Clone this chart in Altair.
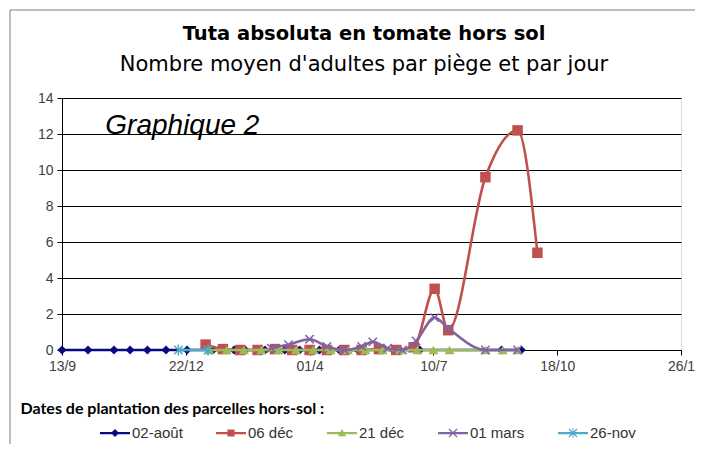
import altair as alt
import pandas as pd

# ---------------- data ----------------
title_text = "Tuta absoluta en tomate hors sol"
subtitle_text = "Nombre moyen d'adultes par piège et par jour"
annotation_text = "Graphique 2"
x_title = "Dates de plantation des parcelles hors-sol :"

series_names = ["02-août", "06 déc", "21 déc", "01 mars", "26-nov"]
series_colors = ["#0A0A80", "#C0504D", "#9BBB59", "#8064A2", "#4BACC6"]

aout_dates = ["2008-09-13", "2008-10-04", "2008-10-25", "2008-11-07", "2008-11-21",
              "2008-12-06", "2008-12-23", "2009-01-13", "2009-01-30", "2009-02-08",
              "2009-02-24", "2009-03-12", "2009-03-24", "2009-04-09", "2009-04-25",
              "2009-05-10", "2009-05-27", "2009-06-13", "2009-06-29", "2009-09-03",
              "2009-09-19"]
aout_vals = [0] * len(aout_dates)

dec06_dates = ["2009-01-07", "2009-01-21", "2009-02-04", "2009-02-18", "2009-03-04",
               "2009-03-18", "2009-04-01", "2009-04-15", "2009-04-29", "2009-05-13",
               "2009-05-27", "2009-06-10", "2009-06-24", "2009-07-11", "2009-07-22",
               "2009-08-21", "2009-09-16", "2009-10-02"]
dec06_vals = [0.3, 0.05, 0, 0, 0.05, 0, 0, 0, 0, 0, 0.05, 0, 0.15, 3.4, 1.1, 9.6, 12.2, 5.4]

dec21_dates = ["2009-01-10", "2009-01-24", "2009-02-07", "2009-02-21", "2009-03-07",
               "2009-03-21", "2009-04-04", "2009-04-18", "2009-05-02", "2009-05-16",
               "2009-05-30", "2009-06-13", "2009-06-27", "2009-07-10", "2009-07-23",
               "2009-08-21", "2009-09-04", "2009-09-16"]
dec21_vals = [0] * len(dec21_dates)

mars_dates = ["2009-03-01", "2009-03-15", "2009-04-01", "2009-04-15", "2009-04-29",
              "2009-05-13", "2009-05-22", "2009-06-03", "2009-06-15", "2009-06-26",
              "2009-07-11", "2009-07-22", "2009-08-21", "2009-09-16"]
mars_vals = [0.1, 0.3, 0.6, 0.2, 0.0, 0.2, 0.45, 0.1, 0.0, 0.5, 1.8, 1.2, 0.0, 0.0]

nov_dates = ["2008-12-16", "2009-01-09"]
nov_vals = [0, 0]

tick_dates = [(2008, 9, 13), (2008, 12, 22), (2009, 4, 1), (2009, 7, 10), (2009, 10, 18), (2010, 1, 26)]
y_ticks = [0, 2, 4, 6, 8, 10, 12, 14]

all_dates = [aout_dates, dec06_dates, dec21_dates, mars_dates, nov_dates]
all_vals = [aout_vals, dec06_vals, dec21_vals, mars_vals, nov_vals]

rows = []
for name, ds, vs in zip(series_names, all_dates, all_vals):
    for d, v in zip(ds, vs):
        rows.append({"serie": name, "date": d, "v": v})
df = pd.DataFrame(rows)

# ---------------- styling ----------------
AX_FONT = "Liberation Sans"
plot_shapes = ["diamond", "square", "triangle-up",
               "M-1,-1L1,1M-1,1L1,-1",
               "M-1,-1L1,1M-1,1L1,-1M0,-1.3L0,1.3"]
plot_filled = [True, True, True, False, False]
plot_sizes = [80, 110, 100, 70, 70]

# legend symbols: line segment + marker (custom filled paths)
bar = "M-1,-0.075H1V0.075H-1Z"
xmark = ("M-0.24,-0.3L0.3,0.24L0.24,0.3L-0.3,-0.24Z"
         "M0.3,-0.24L-0.24,0.3L-0.3,0.24L0.24,-0.3Z")
legend_shapes = [
    bar + "M0,-0.27L0.27,0L0,0.27L-0.27,0Z",
    bar + "M-0.24,-0.24H0.24V0.24H-0.24Z",
    bar + "M0,-0.27L0.27,0.22H-0.27Z",
    bar + xmark,
    bar + xmark + "M-0.03,-0.34H0.03V0.34H-0.03Z",
]

x_dom = [alt.DateTime(year=2008, month=9, date=13, utc=True),
         alt.DateTime(year=2010, month=1, date=26, utc=True)]
x_vals = [alt.DateTime(year=y, month=m, date=d, utc=True) for (y, m, d) in tick_dates]

x_enc = alt.X(
    "date:T",
    scale=alt.Scale(type="utc", domain=x_dom, nice=False),
    axis=alt.Axis(
        values=x_vals,
        labelExpr="utcFormat(datum.value, '%d') + '/' + (utcmonth(datum.value) + 1)",
        grid=False, domainColor="#000000", tickColor="#000000", tickSize=5,
        labelFont=AX_FONT, labelFontSize=14, labelColor="#404040", labelPadding=4,
        labelFlush=False, labelOverlap=False,
        title=x_title,
        titleFont="Lato", titleFontSize=16, titleFontWeight="bold", titleColor="#000000",
        titleAnchor="start", titleAlign="left", titleBaseline="alphabetic",
        titleX=-42, titleY=63,
    ),
)
y_enc = alt.Y(
    "v:Q",
    scale=alt.Scale(domain=[0, 14], nice=False),
    axis=alt.Axis(
        values=y_ticks, grid=True, gridColor="#000000", gridWidth=1,
        domainColor="#000000", tickColor="#000000", tickSize=5,
        labelFont=AX_FONT, labelFontSize=14, labelColor="#404040", labelPadding=4,
        title=None,
    ),
)

base = alt.Chart(df)
layers = []

one = pd.DataFrame({"k": [0]})

# frame of the chart area (top and left edges; the rest lies outside the picture)
frame_top = alt.Chart(one).mark_rule(color="#7F7F7F", strokeWidth=1).encode(
    x=alt.value(-52), x2=alt.value(700), y=alt.value(-88))
frame_left = alt.Chart(one).mark_rule(color="#7F7F7F", strokeWidth=1).encode(
    x=alt.value(-52), y=alt.value(-88), y2=alt.value(400))
layers += [frame_top, frame_left]

# titles
t1 = alt.Chart(one).mark_text(
    text=title_text, font="DejaVu Sans", fontSize=19.5, fontWeight="bold", color="#000000",
    align="center", baseline="alphabetic"
).encode(x=alt.value(302), y=alt.value(-58))
t2 = alt.Chart(one).mark_text(
    text=subtitle_text, font="DejaVu Sans", fontSize=21, color="#000000",
    align="center", baseline="alphabetic"
).encode(x=alt.value(302), y=alt.value(-27))
layers += [t1, t2]

for i, name in enumerate(series_names):
    sub = base.transform_filter(alt.datum.serie == name)
    line = sub.mark_line(color=series_colors[i], strokeWidth=2.6, interpolate="monotone").encode(
        x=x_enc, y=y_enc)
    pts = sub.mark_point(
        color=series_colors[i], shape=plot_shapes[i], filled=plot_filled[i],
        size=plot_sizes[i], opacity=1, strokeWidth=1.5,
    ).encode(x=x_enc, y=y_enc)
    layers += [line, pts]

leg = dict(orient="none", legendX=38, legendY=320, direction="horizontal",
           title=None, symbolSize=900, labelFont=AX_FONT, labelFontSize=15,
           labelColor="#333333", labelOffset=2, columnPadding=33, padding=0,
           symbolStrokeWidth=0)

# legend-only layer
legend_layer = base.transform_filter("false").mark_point(filled=True, opacity=1).encode(
    x=x_enc, y=y_enc,
    color=alt.Color("serie:N", scale=alt.Scale(domain=series_names, range=series_colors),
                    legend=alt.Legend(**leg)),
    shape=alt.Shape("serie:N", scale=alt.Scale(domain=series_names, range=legend_shapes),
                    legend=alt.Legend(**leg)),
)
layers.append(legend_layer)

# annotation
ann = alt.Chart(pd.DataFrame({"date": ["2008-10-18"], "v": [12], "t": [annotation_text]})).mark_text(
    align="left", baseline="alphabetic", fontSize=28, fontStyle="italic", font=AX_FONT, color="#000000"
).encode(x=x_enc, y=y_enc, text="t:N")
layers.append(ann)

chart = alt.layer(*layers).properties(
    width=619, height=252,
    autosize=alt.AutoSizeParams(type="none"),
    padding={"left": 54, "top": 90, "right": 14, "bottom": 94},
).configure_view(stroke=None).configure(background="#FFFFFF")

chart.save("out.html", embed_options={"renderer": "svg", "actions": False})
